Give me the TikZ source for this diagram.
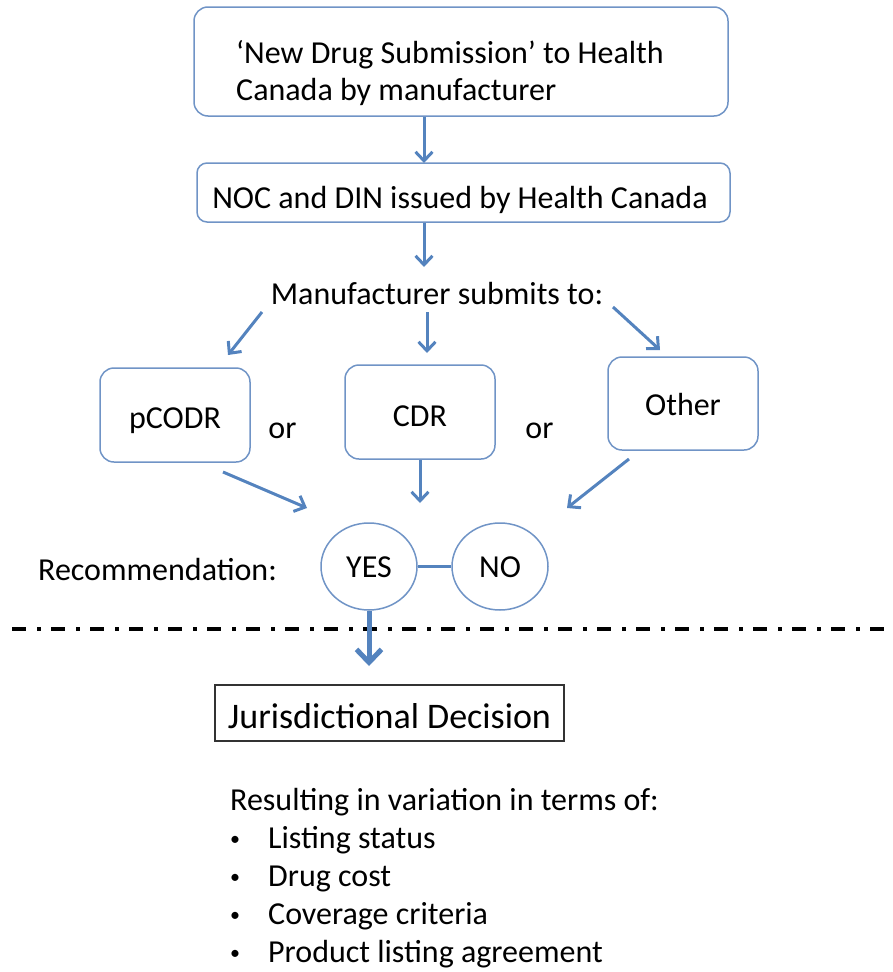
\documentclass[tikz,border=0pt]{standalone}
\usepackage{fontspec}
\setmainfont{Carlito}
\usetikzlibrary{arrows.meta,shapes.geometric}
\definecolor{boxblue}{RGB}{112,148,198}
\definecolor{arrblue}{RGB}{84,131,190}
\newcommand{\mybul}{\makebox[40pt][l]{\hspace{2pt}\raisebox{3pt}{\fontsize{20}{20}\selectfont •}}}
\begin{document}
\begin{tikzpicture}[x=1pt,y=-1pt,
  every node/.style={font=\fontsize{32}{37}\selectfont, inner sep=0pt, text=black},
  box/.style={draw=boxblue, line width=1.5pt, rounded corners=14pt},
  circ/.style={ellipse, draw=boxblue, line width=1.5pt, minimum width=96pt, minimum height=87pt, text height=21pt, text depth=0pt},
  arr/.style={draw=arrblue, line width=3pt, -{Straight Barb[length=9pt,width=17pt]}},
  bigarr/.style={draw=arrblue, line width=5pt, -{Straight Barb[length=13pt,width=25pt]}}]
\useasboundingbox (0,0) rectangle (892,972);

% top box
\node[box, minimum width=534pt, minimum height=109pt] (nds) at (461,61.5) {};
\node[anchor=north west, align=left] (ndstext) at (236,40) {‘New Drug Submission’ to Health\\Canada by manufacturer};

% NOC box
\node[box, rounded corners=10pt, minimum width=533pt, minimum height=59pt] (noc) at (463.5,192.5) {};
\node[anchor=base] (noctext) at (460,208) {NOC and DIN issued by Health Canada};

\coordinate (a1e) at (424,163);
\coordinate (a2e) at (424,267);
\draw[arr] (nds.south -| a1e) -- (a1e);
\draw[arr] (noc.south -| a2e) -- (a2e);

% manufacturer
\node[anchor=base] (manu) at (437,304) {Manufacturer submits to:};

% three boxes
\node[box, minimum width=150pt, minimum height=94pt, text height=26pt, text depth=0pt] (pcodr) at (175,415) {pCODR};
\node[box, minimum width=150pt, minimum height=94pt, text height=28pt, text depth=0pt] (cdr) at (420,412) {CDR};
\node[box, minimum width=150pt, minimum height=93pt, text height=23pt, text depth=0pt] (other) at (683,403.5) {Other};
\node[anchor=base] (or1) at (282.5,438) {or};
\node[anchor=base] (or2) at (539.5,438) {or};

\coordinate (m1s) at (262,312); \coordinate (m1e) at (228,355);
\coordinate (m2s) at (427,312); \coordinate (m2e) at (427,353);
\coordinate (m3s) at (613,307); \coordinate (m3e) at (660,350);
\draw[arr] (m1s) -- (m1e);
\draw[arr] (m2s) -- (m2e);
\draw[arr] (m3s) -- (m3e);

\coordinate (p1s) at (223,472); \coordinate (p1e) at (307,508);
\coordinate (p2s) at (420,460); \coordinate (p2e) at (420,503);
\coordinate (p3s) at (629,459); \coordinate (p3e) at (567,508);
\draw[arr] (p1s) -- (p1e);
\draw[arr] (p2s) -- (p2e);
\draw[arr] (p3s) -- (p3e);

% recommendation
\node[anchor=base west] (rec) at (38,580) {Recommendation:};
\node[circ] (yes) at (369,566.5) {YES};
\node[circ] (no) at (500,566.5) {NO};
\draw[draw=arrblue, line width=3.5pt] (yes) -- (no);

% dash-dot separator
\coordinate (dl) at (12,629);
\coordinate (dr) at (892,629);
\draw[line width=4pt, dash pattern=on 14pt off 11pt on 4pt off 10pt] (dl) -- (dr);

% decision
\coordinate (jtip) at (369,666);
\draw[bigarr] (yes) -- (jtip);
\node[draw=black!80, line width=1.5pt, minimum width=349pt, minimum height=56pt,
      font=\fontsize{36}{40}\selectfont, text height=30pt, text depth=0pt] (jd) at (389.5,713) {Jurisdictional Decision};

% resulting list
\node[anchor=base west] (res) at (230,810) {Resulting in variation in terms of:};
\node[anchor=base west] (b1) at (228,848) {\mybul Listing status};
\node[anchor=base west] (b2) at (228,886) {\mybul Drug cost};
\node[anchor=base west] (b3) at (228,924) {\mybul Coverage criteria};
\node[anchor=base west] (b4) at (228,962) {\mybul Product listing agreement};
\end{tikzpicture}
\end{document}
